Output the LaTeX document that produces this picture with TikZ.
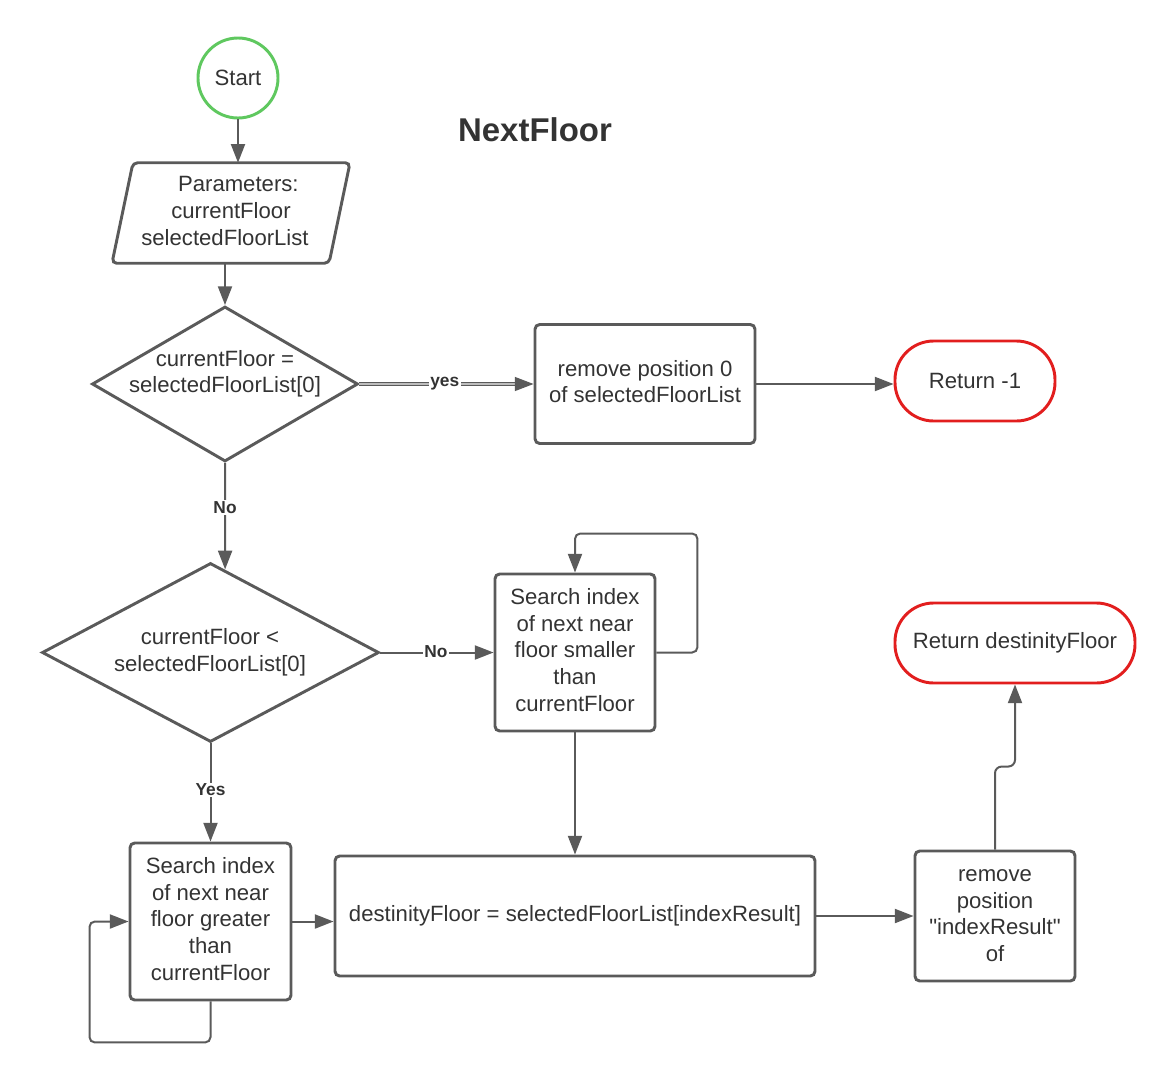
\documentclass[tikz,border=0pt]{standalone}
\usepackage{fontspec}
\setmainfont{Liberation Sans}
\usetikzlibrary{shapes.geometric,arrows.meta,calc}
\definecolor{lc}{RGB}{90,90,90}
\definecolor{tc}{RGB}{51,51,51}
\definecolor{gc}{RGB}{95,200,95}
\definecolor{rc}{RGB}{226,30,30}
\newcommand{\mlines}[1]{\begin{tabular}{@{}c@{}}#1\end{tabular}}
\begin{document}
\begin{tikzpicture}[x=0.75pt,y=-0.75pt,
  every node/.style={text=tc, font=\fontsize{16.6}{20}\selectfont},
  box/.style={draw=lc, line width=2.2pt, rounded corners=3.5pt, align=center, inner sep=0pt},
  dia/.style={draw=lc, line width=2.2pt, shape=diamond, inner sep=0pt},
  term/.style={draw=rc, line width=2.2pt, rounded corners=29pt, align=center, inner sep=0pt, minimum height=60pt},
  arr/.style={draw=lc, line width=1.5pt, -{Triangle[length=14pt,width=10.5pt]}},
  lbl/.style={fill=white, font=\bfseries\fontsize{13}{15}\selectfont, inner sep=1pt},
  txt/.style={align=center, inner sep=0pt}
]
\useasboundingbox (0,0) rectangle (1175,1082);

% title
\node[font=\bfseries\fontsize{24.7}{28}\selectfont] (title) at (535,130) {NextFloor};

% start
\node[circle, draw=gc, line width=2.2pt, minimum size=60pt, inner sep=0pt] (st) at (238,78) {Start};

% parameters parallelogram
\node[txt, minimum width=162.4pt, minimum height=75pt] (par) at (231,213) {\mlines{\hspace*{11pt}Parameters:\\currentFloor\\selectedFloorList\hspace*{9pt}}};
\draw[draw=lc, line width=2.2pt, rounded corners=3.5pt]
  ($(par.south west)+(-10.5,0)$) -- ($(par.north west)+(10.5,0)$) -- ($(par.north east)+(10.5,0)$) -- ($(par.south east)+(-10.5,0)$) -- cycle;

% decision 1
\node[dia, minimum width=199.5pt, minimum height=116.25pt] (d1) at (225,384) {};
\node[txt] (d1t) at (225,374) {\mlines{currentFloor =\\selectedFloorList[0]}};

% remove 0
\node[box, minimum width=165pt, minimum height=89.25pt] (r0) at (645,384) {\mlines{remove position 0\\of selectedFloorList}};

% return -1
\node[term, minimum width=120pt] (ret1) at (975,381) {Return -1};

% decision 2
\node[dia, minimum width=252.75pt, minimum height=134.25pt] (d2) at (210.5,652.5) {};
\node[txt] (d2t) at (210,652.5) {\mlines{currentFloor <\\selectedFloorList[0]}};

% search smaller
\node[box, minimum width=120pt, minimum height=117.75pt] (ss) at (575,652.5) {\mlines{Search index\\of next near\\floor smaller\\than\\currentFloor}};

% search greater
\node[box, minimum width=120.75pt, minimum height=117.75pt] (sg) at (210.5,921.5) {\mlines{Search index\\of next near\\floor greater\\than\\currentFloor}};

% destination
\node[box, minimum width=360pt, minimum height=90pt] (dest) at (575,916) {destinityFloor = selectedFloorList[indexResult]};

% remove index
\node[box, minimum width=120pt, minimum height=97.5pt] (rm) at (995,916) {\mlines{remove\\position\\\textquotedbl indexResult\textquotedbl\\of}};

% return destinityFloor
\node[term, minimum width=180pt] (ret2) at (1015,643) {Return destinityFloor};

% connectors
\draw[arr] (st.south) -- (st.south |- par.north);
\draw[arr] (d1.north |- par.south) -- (d1.north);
\draw[draw=lc, line width=0.9pt, double=lc!40, double distance=1.2pt, -{Triangle[length=14pt,width=10.5pt]}] (d1.east) -- (r0.west)
  node[lbl, pos=0.49] (lyes) {yes};
\draw[arr] (r0.east) -- (r0.east -| ret1.west);
\draw[arr] (d1.south) -- ($(d2.north)!0.086!(d2.east)$)
  node[lbl, pos=0.42] (lno1) {No};
\draw[arr] (d2.east) -- (ss.west)
  node[lbl, pos=0.49, yshift=1pt] (lno2) {No};
\draw[arr, rounded corners=4pt] (ss.east) -- ++(41,0) -- ++(0,-119) -| (ss.north);
\draw[arr] (ss.south) -- (ss.south |- dest.north);
\draw[arr] (d2.south) -- (sg.north)
  node[lbl, pos=0.475] (lyes2) {Yes};
\draw[arr, rounded corners=4pt] (sg.south) -- ++(0,41) -- ++(-121,0) |- (sg.west);
\draw[arr] (sg.east) -- (sg.east -| dest.west);
\draw[arr] (dest.east) -- (rm.west);
\draw[arr, rounded corners=5pt] (rm.north) -- ++(0,-83) -| (ret2.south);
\end{tikzpicture}
\end{document}
